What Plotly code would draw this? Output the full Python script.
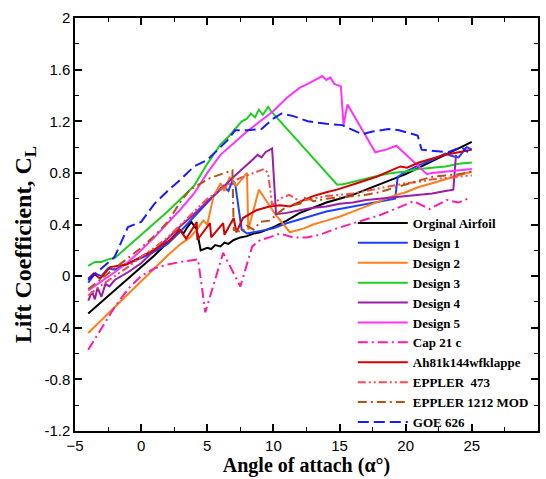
import plotly.graph_objects as go

# ---------------- data ----------------
names = ["Orginal Airfoil", "Design 1", "Design 2", "Design 3", "Design 4", "Design 5",
         "Cap 21 c", "Ah81k144wfklappe", "EPPLER  473", "EPPLER 1212 MOD", "GOE 626"]

orig_x = [-4, -3, -2, -1, 0, 1, 2, 2.5, 2.9, 3.2, 3.5, 3.8, 4.2, 4.5, 5, 5.3, 5.6, 6, 6.3, 6.6, 7, 7.5, 8, 8.5, 9, 9.5, 10,
          11, 12, 13, 14, 15, 16, 17, 18, 19, 20, 21, 22, 23, 24, 25]
orig_y = [-0.29, -0.2, -0.11, -0.02, 0.07, 0.16, 0.26, 0.31, 0.36, 0.33, 0.38, 0.42, 0.36, 0.20, 0.22, 0.21, 0.24, 0.23, 0.26, 0.25, 0.28, 0.30, 0.31, 0.33, 0.34, 0.36, 0.38,
          0.43, 0.49, 0.53, 0.57, 0.60, 0.63, 0.67, 0.71, 0.75, 0.79, 0.84, 0.89, 0.94, 0.99, 1.04]

d1_x = [-4, -3.5, -3, -2.5, -2, -1, 0, 1, 2, 3, 4, 5, 5.7, 6.2, 6.6, 6.9, 7.1, 7.6, 8, 9, 10, 11, 12, 13, 14, 15, 16, 17, 18,
        19, 19.2, 19.4, 20, 21, 22, 23, 23.5, 24, 24.6, 25]
d1_y = [-0.05, 0.02, 0.0, 0.06, 0.05, 0.10, 0.14, 0.19, 0.25, 0.35, 0.46, 0.57, 0.64, 0.70, 0.66, 0.74, 0.72, 0.36, 0.33, 0.35, 0.37, 0.41, 0.44, 0.47, 0.50, 0.52, 0.54, 0.56, 0.58,
        0.60, 0.60, 0.77, 0.81, 0.86, 0.90, 0.95, 0.93, 0.92, 1.00, 0.98]

d2_x = [-4, -3, -2, -1, 0, 1, 2, 3, 3.7, 4.2, 4.7, 5.0, 5.45, 6.0, 6.3, 6.7, 7.2, 7.6, 8.0, 8.1, 8.9, 10.2, 11.25, 12.3, 13, 14, 15,
        16, 17, 18, 19, 20, 21, 22, 23, 24, 25]
d2_y = [-0.44, -0.34, -0.24, -0.14, -0.04, 0.06, 0.16, 0.25, 0.30, 0.36, 0.43, 0.40, 0.61, 0.72, 0.66, 0.77, 0.70, 0.75, 0.80, 0.36, 0.67, 0.47, 0.34, 0.37, 0.40, 0.43, 0.46,
        0.50, 0.54, 0.58, 0.62, 0.65, 0.69, 0.72, 0.75, 0.78, 0.81]

d3_x = [-4, -3.5, -3, -2.5, -2, -1, 0, 1, 2, 3, 4, 5, 5.5, 6, 6.6, 7.2, 7.6, 8.0, 8.3, 8.6, 8.9, 9.2, 9.6, 9.8, 14.8, 15.2, 16,
        17, 18, 19, 20, 21, 22, 23, 24, 25]
d3_y = [0.08, 0.11, 0.11, 0.13, 0.14, 0.23, 0.32, 0.41, 0.50, 0.60, 0.70, 0.87, 0.95, 1.02, 1.08, 1.15, 1.20, 1.22, 1.26, 1.23, 1.29, 1.25, 1.31, 1.28, 0.71, 0.71, 0.73,
        0.76, 0.78, 0.80, 0.81, 0.83, 0.84, 0.85, 0.87, 0.88]

d4_x = [-4, -3.7, -3.5, -3.3, -3.0, -2.7, -2.4, -2, -1, 0, 1, 2, 3, 4, 5, 6, 7, 8, 8.5, 8.8, 9.1, 9.4, 9.9, 10.2, 11, 12, 13, 14,
        15, 16, 17, 18, 19, 20, 21, 22, 23, 23.6, 23.8]
d4_y = [-0.19, -0.12, -0.18, -0.09, -0.16, -0.06, -0.08, -0.03, 0.03, 0.10, 0.20, 0.29, 0.39, 0.48, 0.58, 0.67, 0.77, 0.86, 0.91, 0.94, 0.92, 0.96, 0.99, 0.48, 0.49, 0.51, 0.53, 0.54,
        0.56, 0.57, 0.59, 0.60, 0.61, 0.62, 0.63, 0.64, 0.66, 0.67, 0.94]

d5_x = [-4, -3, -2, -1, 0, 1, 2, 3, 4, 5, 6, 7, 8, 9, 10, 11, 12, 12.6, 13, 13.3, 13.7, 14.0, 14.3, 14.6, 15.1, 15.3, 15.6, 17.7,
        18.5, 19.3, 21.6, 22, 23, 24, 25]
d5_y = [-0.11, -0.04, 0.03, 0.11, 0.20, 0.30, 0.41, 0.52, 0.64, 0.80, 0.94, 1.03, 1.12, 1.20, 1.28, 1.38, 1.46, 1.49, 1.51, 1.53, 1.55, 1.52, 1.54, 1.49, 1.47, 1.17, 1.33, 0.96,
        0.98, 1.01, 0.79, 0.80, 0.81, 0.82, 0.83]

cap_x = [-4, -3, -2, -1, 0, 1, 2, 3, 4.3, 4.85, 6.2, 7.5, 8.4, 9.0, 9.7, 10.5, 11.5, 12.5, 13.5, 14.8, 16, 17.3, 18, 19.6, 20.6,
         21.8, 23.1, 24, 24.9]
cap_y = [-0.57, -0.40, -0.24, -0.10, 0.00, 0.06, 0.09, 0.11, 0.13, -0.28, 0.18, -0.08, 0.23, 0.28, 0.30, 0.33, 0.30, 0.30, 0.32, 0.37, 0.41, 0.45, 0.47, 0.54, 0.58,
         0.52, 0.59, 0.57, 0.61]

ah_x = [-4, -3.6, -3.1, -2.35, -1.1, 0, 0.9, 2.2, 2.9, 3.4, 4.2, 4.25, 5.2, 5.3, 6.2, 6.3, 7.0, 7.2, 7.7, 8.7, 9.7, 10.5, 11.25,
        12.3, 13, 14, 14.8, 16.3, 17.8, 19.6, 20.1, 21, 22, 23, 24, 25]
ah_y = [-0.02, 0.02, -0.02, 0.07, 0.09, 0.15, 0.20, 0.28, 0.36, 0.29, 0.42, 0.28, 0.41, 0.30, 0.41, 0.32, 0.45, 0.34, 0.45, 0.51, 0.54, 0.55, 0.54,
        0.59, 0.62, 0.65, 0.67, 0.72, 0.77, 0.85, 0.84, 0.88, 0.91, 0.94, 0.96, 0.98]

e473_x = [-4, -3, -2, -1, 0, 1, 2, 3, 4, 5, 6, 7, 8, 9, 9.3, 9.6, 9.9, 10.5, 11.2, 12, 13, 14, 15, 16, 17, 18, 19, 20, 21, 22,
          23, 24, 25]
e473_y = [-0.15, -0.07, 0.00, 0.07, 0.15, 0.22, 0.30, 0.40, 0.50, 0.60, 0.67, 0.74, 0.78, 0.82, 0.83, 0.80, 0.55, 0.60, 0.63, 0.58, 0.60, 0.62, 0.63, 0.64, 0.66, 0.68, 0.70, 0.72, 0.73, 0.75,
          0.76, 0.77, 0.78]

e1212_x = [-4, -3, -2, -1, 0, 1, 2, 3, 3.7, 5.2, 6.6, 6.9, 7.0, 7.6, 8, 8.5, 9, 9.7, 10.5, 11, 12, 12.5, 13, 14, 15, 16, 17, 18,
           19, 20, 21, 22, 23, 24, 25]
e1212_y = [-0.10, -0.02, 0.06, 0.14, 0.22, 0.31, 0.42, 0.58, 0.67, 0.76, 0.81, 0.82, 0.36, 0.34, 0.39, 0.36, 0.42, 0.43, 0.50, 0.54, 0.56, 0.62, 0.58, 0.60, 0.61, 0.62, 0.63, 0.65,
           0.68, 0.71, 0.74, 0.77, 0.78, 0.79, 0.81]

goe_x = [-4, -3, -2, -1, 0, 1, 2, 3, 4, 5, 6.5, 7.1, 8, 9.1, 10.0, 10.6, 11.5, 12.6, 14, 15.2, 16.7, 17.5, 18.7, 19.5, 20.9,
         21.2, 22, 23.2, 24.2, 24.7]
goe_y = [-0.03, 0.06, 0.15, 0.38, 0.42, 0.56, 0.66, 0.75, 0.85, 0.90, 1.05, 1.13, 1.13, 1.14, 1.22, 1.26, 1.24, 1.20, 1.18, 1.17, 1.10, 1.12, 1.14, 1.13, 1.09,
         0.98, 0.97, 0.96, 1.00, 0.96]

x_ticks = [-5, 0, 5, 10, 15, 20, 25, 30]
y_ticks = [-1.2, -0.8, -0.4, 0, 0.4, 0.8, 1.2, 1.6, 2]
y_tick_text = ["-1.2", "-0.8", "-0.4", "0", "0.4", "0.8", "1.2", "1.6", "2"]
x_title = "Angle of attach (α°)"
y_title = "Lift Coefficient, C<sub>L</sub>"

# ---------------- styles ----------------
series = [
    (orig_x, orig_y, "#000000", "solid"),
    (d1_x, d1_y, "#1f3fff", "solid"),
    (d2_x, d2_y, "#ff7f1f", "solid"),
    (d3_x, d3_y, "#22cc22", "solid"),
    (d4_x, d4_y, "#9a1fa8", "solid"),
    (d5_x, d5_y, "#ff33ff", "solid"),
    (cap_x, cap_y, "#ff1aa8", "10px,4px,2px,4px"),
    (ah_x, ah_y, "#d40000", "solid"),
    (e473_x, e473_y, "#ff4a4a", "8px,3px,2px,3px,2px,3px"),
    (e1212_x, e1212_y, "#b5530f", "9px,4px,2px,4px"),
    (goe_x, goe_y, "#1a1aff", "11px,5px"),
]

fig = go.Figure()
for name, (xs, ys, col, dash) in zip(names, series):
    fig.add_trace(go.Scatter(x=xs, y=ys, mode="lines", name=name,
                             line=dict(color=col, width=2, dash=dash)))

axis_common = dict(
    showline=True, linecolor="black", linewidth=1.5, mirror="allticks",
    ticks="inside", ticklen=7, tickwidth=1.5, tickcolor="black",
    showgrid=False, zeroline=False, automargin=False,
    tickfont=dict(family="Liberation Sans, Arial", size=15, color="black"),
    minor=dict(ticks="inside", ticklen=4, tickwidth=1, tickcolor="black"),
)

fig.update_xaxes(range=[-5, 30], tickvals=x_ticks, minor_dtick=2.5,
                 title=dict(text=x_title, standoff=5,
                            font=dict(family="Liberation Serif, Times New Roman", size=20,
                                      color="black", weight="bold")),
                 **axis_common)
fig.update_yaxes(range=[-1.2, 2], tickvals=y_ticks, ticktext=y_tick_text, minor_dtick=0.2,
                 **axis_common)

fig.add_annotation(text=y_title, textangle=-90, xref="paper", yref="paper",
                   x=0, y=0.45, xanchor="center", yanchor="middle", xshift=-50,
                   showarrow=False,
                   font=dict(family="Liberation Serif, Times New Roman", size=24,
                             color="black", weight="bold"))

fig.update_layout(
    width=546, height=479,
    margin=dict(l=75, r=8, t=18, b=48),
    paper_bgcolor="white", plot_bgcolor="white",
    legend=dict(x=0.6, y=0.54, xanchor="left", yanchor="top",
                bgcolor="rgba(0,0,0,0)", borderwidth=0, tracegroupgap=0,
                itemwidth=50,
                font=dict(family="Liberation Serif, Times New Roman", size=13,
                          color="black", weight="bold")),
    showlegend=True,
)

fig.write_html("out.html")
